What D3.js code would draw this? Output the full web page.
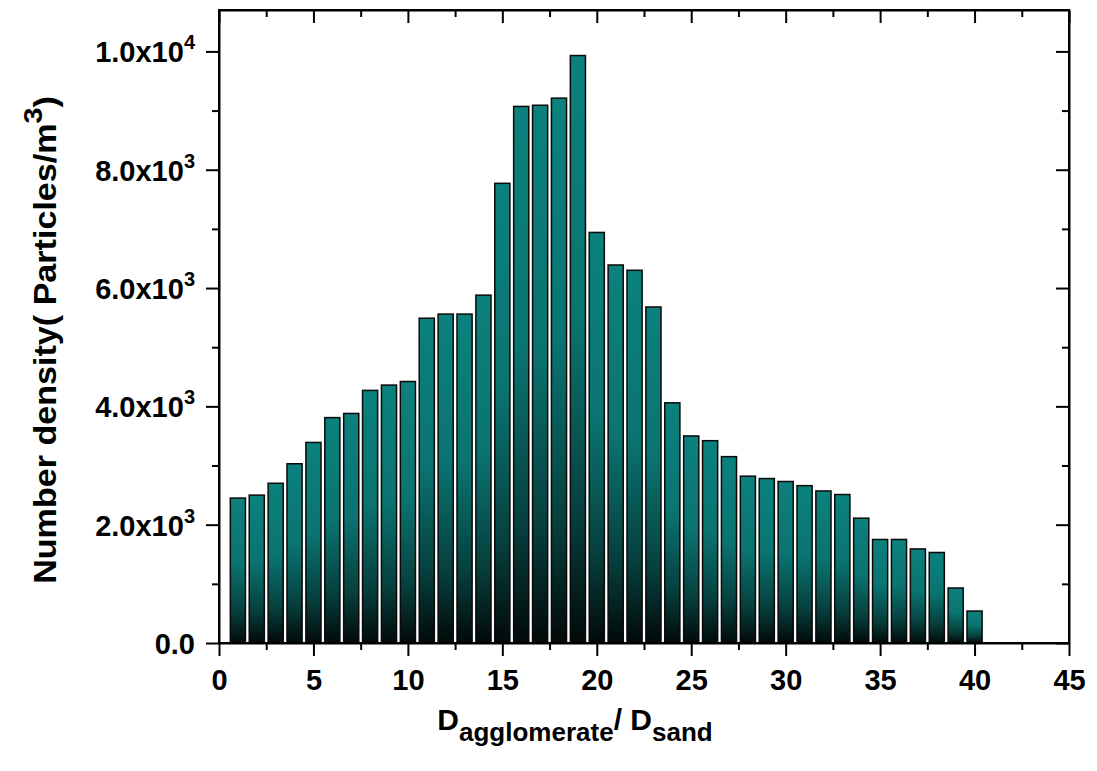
<!DOCTYPE html>
<html>
<head>
<meta charset="utf-8">
<script src="https://cdn.jsdelivr.net/npm/d3@7"></script>
<style>
  html, body { margin: 0; padding: 0; background: #fff; }
  svg { display: block; }
  text { font-family: "Liberation Sans", Arial, sans-serif; font-weight: bold; fill: #000; }
</style>
</head>
<body>
<svg id="chart" width="1097" height="771"></svg>
<script>
// Size ratio classes (D_agglomerate / D_sand)
const sizeRatio = [1, 2, 3, 4, 5, 6, 7, 8, 9, 10,
                   11, 12, 13, 14, 15, 16, 17, 18, 19, 20,
                   21, 22, 23, 24, 25, 26, 27, 28, 29, 30,
                   31, 32, 33, 34, 35, 36, 37, 38, 39, 40];
// Number density, particles per cubic metre
const numberDensity = [2450, 2500, 2700, 3030, 3390, 3810, 3880, 4270, 4360, 4420,
                       5490, 5560, 5560, 5880, 7770, 9070, 9090, 9210, 9930, 6940,
                       6390, 6300, 5680, 4060, 3500, 3420, 3150, 2820, 2780, 2730,
                       2660, 2570, 2510, 2110, 1750, 1750, 1590, 1530, 930, 540];

const xTickValues = [0, 5, 10, 15, 20, 25, 30, 35, 40, 45];
const xTickLabels = ["0", "5", "10", "15", "20", "25", "30", "35", "40", "45"];
const yTickValues = [0, 2000, 4000, 6000, 8000, 10000];
const yTickLabels = ["0.0", "2.0x10^3", "4.0x10^3", "6.0x10^3", "8.0x10^3", "1.0x10^4"];

const svg = d3.select("#chart");
const plot = { left: 219, right: 1069, top: 10, bottom: 643 };

const x = d3.scaleLinear().domain([0, 45]).range([plot.left, plot.right]);
const y = d3.scaleLinear().domain([0, 10700]).range([plot.bottom, plot.top]);
const barWidth = x(0.8) - x(0);

// Vertical teal-to-black fill, applied per bar
const defs = svg.append("defs");
const grad = defs.append("linearGradient")
  .attr("id", "barFill")
  .attr("x1", 0).attr("y1", 0).attr("x2", 0).attr("y2", 1);
grad.append("stop").attr("offset", "0").attr("stop-color", "#0c817d");
grad.append("stop").attr("offset", "0.45").attr("stop-color", "#0a7470");
grad.append("stop").attr("offset", "0.78").attr("stop-color", "#06403e");
grad.append("stop").attr("offset", "1").attr("stop-color", "#020909");

// Bars
svg.append("g")
  .selectAll("rect")
  .data(sizeRatio.map((r, i) => ({ r, v: numberDensity[i] })))
  .join("rect")
  .attr("x", d => x(d.r) - barWidth / 2)
  .attr("y", d => y(d.v))
  .attr("width", barWidth)
  .attr("height", d => y(0) - y(d.v))
  .attr("fill", "url(#barFill)")
  .attr("stroke", "#0a0a0a")
  .attr("stroke-width", 1.5);

// Minor tick positions
const xMinor = d3.range(2.5, 45, 5);
const yMinor = d3.range(1000, 10700, 2000);

function styleAxis(g) {
  g.select(".domain").attr("stroke", "#000").attr("stroke-width", 2);
  g.selectAll(".tick line").attr("stroke", "#000").attr("stroke-width", 2);
}

// Bottom axis with labels
const bottomAxis = svg.append("g")
  .attr("transform", `translate(0,${plot.bottom})`)
  .call(d3.axisBottom(x).tickValues(xTickValues).tickSize(13).tickSizeOuter(0)
    .tickFormat((d, i) => xTickLabels[i]));
styleAxis(bottomAxis);
bottomAxis.selectAll(".tick text")
  .attr("y", 47).attr("dy", 0)
  .style("font-size", "29px");
svg.append("g")
  .attr("transform", `translate(0,${plot.bottom})`)
  .call(d3.axisBottom(x).tickValues(xMinor).tickSize(7).tickFormat(""))
  .call(g => g.select(".domain").remove())
  .call(styleAxis);

// Top axis, ticks drawn into the plot
const topAxis = svg.append("g")
  .attr("transform", `translate(0,${plot.top})`)
  .call(d3.axisBottom(x).tickValues(xTickValues).tickSize(13).tickSizeOuter(0).tickFormat(""));
styleAxis(topAxis);
svg.append("g")
  .attr("transform", `translate(0,${plot.top})`)
  .call(d3.axisBottom(x).tickValues(xMinor).tickSize(7).tickFormat(""))
  .call(g => g.select(".domain").remove())
  .call(styleAxis);

// Left axis with scientific labels
const leftAxis = svg.append("g")
  .attr("transform", `translate(${plot.left},0)`)
  .call(d3.axisLeft(y).tickValues(yTickValues).tickSize(13).tickSizeOuter(0).tickFormat(""));
styleAxis(leftAxis);
svg.append("g")
  .attr("transform", `translate(${plot.left},0)`)
  .call(d3.axisLeft(y).tickValues(yMinor).tickSize(7).tickFormat(""))
  .call(g => g.select(".domain").remove())
  .call(styleAxis);

leftAxis.selectAll(".tick").each(function (d, i) {
  const parts = yTickLabels[i].split("^");
  const t = d3.select(this).append("text")
    .attr("x", -24)
    .attr("y", 10.5)
    .attr("text-anchor", "end")
    .style("font-size", "29px");
  t.append("tspan").text(parts[0]);
  if (parts.length > 1) {
    t.append("tspan").attr("dy", -13).style("font-size", "20px").text(parts[1]);
  }
});

// Right axis, ticks drawn into the plot
const rightAxis = svg.append("g")
  .attr("transform", `translate(${plot.right},0)`)
  .call(d3.axisLeft(y).tickValues(yTickValues).tickSize(13).tickSizeOuter(0).tickFormat(""));
styleAxis(rightAxis);
svg.append("g")
  .attr("transform", `translate(${plot.right},0)`)
  .call(d3.axisLeft(y).tickValues(yMinor).tickSize(7).tickFormat(""))
  .call(g => g.select(".domain").remove())
  .call(styleAxis);

// Frame closing the plot area
svg.append("rect")
  .attr("x", plot.left).attr("y", plot.top)
  .attr("width", plot.right - plot.left).attr("height", plot.bottom - plot.top)
  .attr("fill", "none").attr("stroke", "#000").attr("stroke-width", 2);

// Axis titles
const xTitle = svg.append("text")
  .attr("x", 575)
  .attr("y", 730)
  .attr("text-anchor", "middle")
  .style("font-size", "30px");
xTitle.append("tspan").text("D");
xTitle.append("tspan").attr("dy", 11).style("font-size", "26px").text("agglomerate");
xTitle.append("tspan").attr("dy", -11).text("/ D");
xTitle.append("tspan").attr("dy", 11).style("font-size", "26px").text("sand");

const yTitle = svg.append("text")
  .attr("transform", "translate(56,340) rotate(-90) scale(1.1,1)")
  .attr("text-anchor", "middle")
  .style("font-size", "31px");
yTitle.append("tspan").text("Number density( Particles/m");
yTitle.append("tspan").attr("dy", -14).style("font-size", "26px").text("3");
yTitle.append("tspan").attr("dy", 14).text(")");
</script>
</body>
</html>
